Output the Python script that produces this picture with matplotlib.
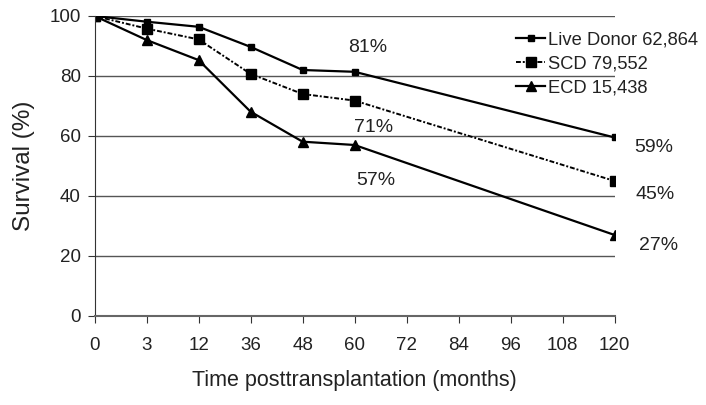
import matplotlib.pyplot as plt
import numpy as np

plt.rcParams['font.family'] = ['Liberation Sans', 'DejaVu Sans']

months = ["0", "3", "12", "36", "48", "60", "72", "84", "96", "108", "120"]
data_months = ["0", "3", "12", "36", "48", "60", "120"]

live_donor = [100, 98.1, 96.4, 89.7, 82.0, 81.4, 59.5]
scd = [100, 95.8, 92.2, 80.7, 74.0, 71.8, 45.0]
ecd = [100, 92.0, 85.3, 68.1, 58.1, 57.0, 27.0]

# text labels: (category position, y, text)
labels = [(5.26, 89.5, "81%"), (5.37, 62.8, "71%"), (5.41, 45.2, "57%"),
          (10.76, 56.2, "59%"), (10.78, 40.5, "45%"), (10.85, 23.5, "27%")]

fig = plt.figure(figsize=(7.06, 4.05), dpi=100)
ax = fig.add_axes([0.134, 0.2198, 0.7365, 0.7407])

x = [months.index(m) for m in data_months]

ax.plot(x, live_donor, color='black', lw=1.6, marker='s', ms=5, label="Live Donor 62,864")
ax.plot(x, scd, color='black', lw=1.4, linestyle=(0, (2.5, 1, 1, 1)), marker='s', ms=7, label="SCD 79,552")
ax.plot(x, ecd, color='black', lw=1.6, marker='^', ms=7, label="ECD 15,438")

for xp, yp, t in labels:
    ax.text(xp, yp, t, fontsize=14, ha='center', va='center', color='#222222')

ax.set_xlim(0, 10)
ax.set_ylim(0, 100)
ax.set_xticks(range(len(months)))
ax.set_xticklabels(months)
ax.set_yticks([0, 20, 40, 60, 80, 100])
ax.yaxis.grid(True, color='#555555', lw=1)
ax.set_axisbelow(True)
for s in ['top', 'right']:
    ax.spines[s].set_visible(False)
ax.spines['left'].set_color('#333333')
ax.spines['bottom'].set_color('#666666')
ax.spines['bottom'].set_linewidth(1.5)
ax.tick_params(labelsize=13.5, length=5, colors='#333333', labelcolor='#222222')
ax.tick_params(axis='x', pad=10)
ax.tick_params(axis='y', pad=5)

ax.set_ylabel("Survival (%)", fontsize=17.5, color='#222222', labelpad=10)
ax.set_xlabel("Time posttransplantation (months)", fontsize=15.5, color='#222222', labelpad=12)

leg = ax.legend(loc='upper left', bbox_to_anchor=(0.721, 0.94), bbox_transform=fig.transFigure,
                frameon=False, fontsize=13.2, handlelength=1.55, handletextpad=0.2,
                labelspacing=0.38, borderaxespad=0)
for t in leg.get_texts():
    t.set_color('#222222')

fig.savefig("out.png", dpi=100)
